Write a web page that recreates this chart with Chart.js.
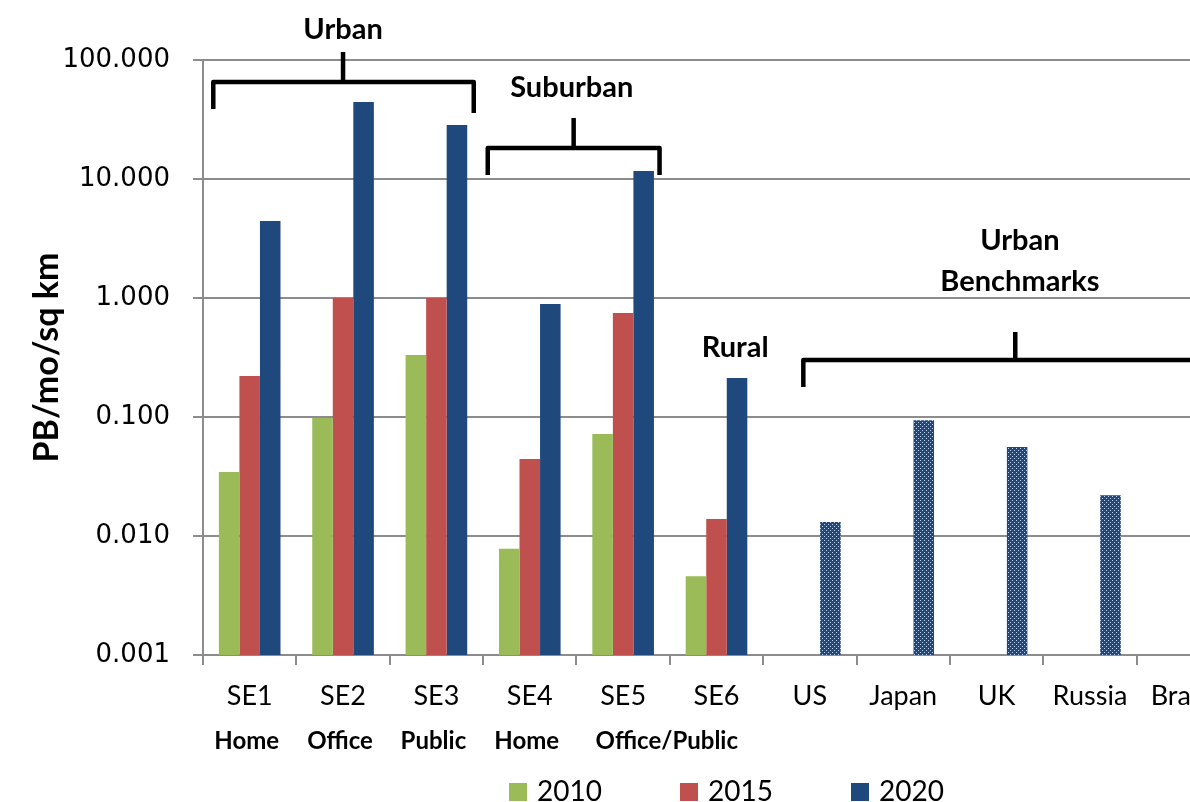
<!DOCTYPE html>
<html>
<head>
<meta charset="utf-8">
<script src="https://cdn.jsdelivr.net/npm/chart.js@4"></script>
<style>
  html, body { margin: 0; padding: 0; background: #fff; overflow: hidden; }
  #wrap { width: 1240px; height: 802px; }
</style>
</head>
<body>
<div id="wrap"><canvas id="myChart" width="1240" height="802"></canvas></div>
<script>
// data
const categories = ['SE1', 'SE2', 'SE3', 'SE4', 'SE5', 'SE6', 'US', 'Japan', 'UK', 'Russia', 'Brazil'];
const subLabels = ['Home', 'Office', 'Public', 'Home', 'Office/Public'];
const seriesNames = ['2010', '2015', '2020'];
const values2010 = [0.0345, 0.098, 0.332, 0.0078, 0.072, 0.0046, null, null, null, null, null];
const values2015 = [0.221, 1.0, 1.0, 0.0444, 0.748, 0.0139, null, null, null, null, null];
const values2020 = [4.43, 44.4, 28.4, 0.89, 11.7, 0.213, 0.0131, 0.094, 0.056, 0.022, null];
const yTicks = [0.001, 0.01, 0.1, 1, 10, 100];

// where the extra texts and brackets sit (category index, axis value)
const subLabelAt = [0, 1, 2, 3, 4.5];
const brackets = [
  { from: -0.39, to: 2.40, mid: 1.0, at: 65.3, dropL: 27, dropR: 31, up: 30 },
  { from: 2.55, to: 4.39, mid: 3.47, at: 18.2, dropL: 27, dropR: 27, up: 30 },
  { from: 5.93, to: 10.4, mid: 8.2, at: 0.301, dropL: 27, dropR: 27, up: 28 }
];
const groupLabels = [
  { text: 'Urban', x: 1.0, y: 179 },
  { text: 'Suburban', x: 3.45, y: 58.2 },
  { text: 'Rural', x: 5.2, y: 0.38 },
  { text: 'Urban', x: 8.25, y: 3.01 },
  { text: 'Benchmarks', x: 8.25, y: 1.36 }
];

const colors = ['#9BBB59', '#C0504D', '#1F497D'];
const grey = '#8c8c8c';

function dotPattern() {
  const c = document.createElement('canvas');
  c.width = 4; c.height = 4;
  const g = c.getContext('2d');
  g.fillStyle = '#1F497D';
  g.fillRect(0, 0, 4, 4);
  g.fillStyle = '#c4d2e8';
  g.fillRect(0, 0, 1, 1);
  g.fillRect(2, 2, 1, 1);
  return g.createPattern(c, 'repeat');
}
const dots = dotPattern();

const extras = {
  id: 'extras',
  afterDraw(chart) {
    const { ctx, scales } = chart;
    const x = scales.x, y = scales.y;
    ctx.save();
    // brackets
    ctx.strokeStyle = '#000';
    ctx.lineWidth = 4.5;
    ctx.lineJoin = 'round';
    ctx.lineCap = 'butt';
    brackets.forEach(b => {
      const x1 = x.getPixelForValue(b.from), x2 = x.getPixelForValue(b.to);
      const xm = x.getPixelForValue(b.mid), py = y.getPixelForValue(b.at);
      ctx.beginPath();
      ctx.moveTo(x1, py + b.dropL);
      ctx.lineTo(x1, py);
      ctx.lineTo(x2, py);
      ctx.lineTo(x2, py + b.dropR);
      ctx.moveTo(xm, py);
      ctx.lineTo(xm, py - b.up);
      ctx.stroke();
    });
    // group labels
    ctx.fillStyle = '#000';
    ctx.textAlign = 'center';
    ctx.textBaseline = 'middle';
    ctx.font = 'bold 29px Lato';
    groupLabels.forEach(l => {
      ctx.fillText(l.text, x.getPixelForValue(l.x), y.getPixelForValue(l.y));
    });
    // second row of category labels
    ctx.font = 'bold 24px Lato';
    subLabels.forEach((t, i) => {
      ctx.fillText(t, x.getPixelForValue(subLabelAt[i]) - 3, 741);
    });
    // legend
    ctx.textAlign = 'left';
    ctx.font = '28px Lato';
    seriesNames.forEach((n, i) => {
      const lx = 509 + 171 * i;
      ctx.fillStyle = colors[i];
      ctx.fillRect(lx, 783, 18, 18);
      ctx.fillStyle = '#000';
      ctx.fillText(n, lx + 28, 792);
    });
    ctx.restore();
  }
};

const ctx = document.getElementById('myChart');
const myChart = new Chart(ctx, {
  type: 'bar',
  data: {
    labels: categories,
    datasets: [
      { label: seriesNames[0], data: values2010, backgroundColor: colors[0] },
      { label: seriesNames[1], data: values2015, backgroundColor: colors[1] },
      {
        label: seriesNames[2], data: values2020,
        backgroundColor: c => (c.dataIndex >= 6 ? dots : colors[2])
      }
    ]
  },
  options: {
    responsive: false,
    animation: false,
    layout: { padding: { top: 60, right: 10, bottom: 34, left: 0 } },
    datasets: {
      bar: { categoryPercentage: 0.66, barPercentage: 1.0, borderWidth: 0 }
    },
    plugins: {
      legend: { display: false },
      tooltip: { enabled: false }
    },
    scales: {
      x: {
        grid: { display: true, drawOnChartArea: false, offset: true, tickLength: 10, color: grey, lineWidth: 2 },
        border: { color: grey, width: 2 },
        ticks: { color: '#000', font: { family: 'Lato', size: 27 }, padding: 15, autoSkip: false, maxRotation: 0 },
        afterFit: s => { s.height = 113; }
      },
      y: {
        type: 'logarithmic',
        min: 0.001,
        max: 100,
        afterBuildTicks: s => { s.ticks = yTicks.map(v => ({ value: v })); },
        grid: { color: grey, lineWidth: 2, tickLength: 10 },
        border: { color: grey, width: 2 },
        ticks: {
          color: '#000',
          font: { family: 'DejaVu Sans', size: 26 },
          padding: 23,
          callback: v => Number(v).toFixed(3)
        },
        title: {
          display: true,
          text: 'PB/mo/sq km',
          color: '#000',
          font: { family: 'Lato', size: 34, weight: 'bold' },
          padding: { top: 27, bottom: 0 }
        },
        afterFit: s => { s.width = 203; }
      }
    }
  },
  plugins: [extras]
});
</script>
</body>
</html>
